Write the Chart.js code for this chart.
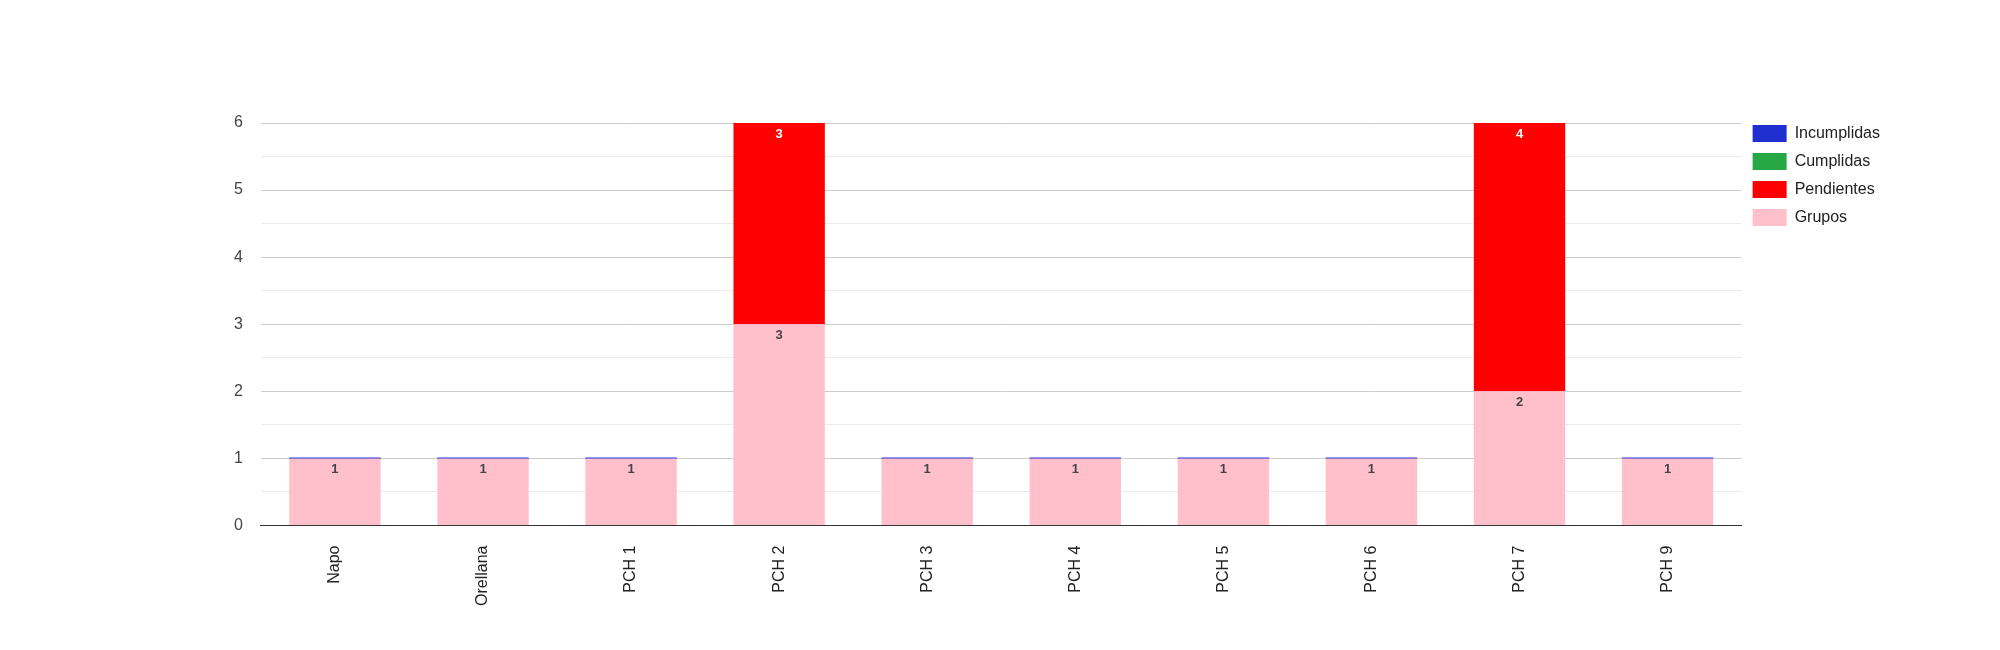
<!DOCTYPE html>
<html>
<head>
<meta charset="utf-8">
<script src="https://cdn.jsdelivr.net/npm/chart.js@4"></script>
<style>
  body { margin: 0; background: #fff; }
  #wrap { width: 2000px; height: 650px; position: relative; }
</style>
</head>
<body>
<div id="wrap"><canvas id="grafico"></canvas></div>
<script>
// categorias y series
var categorias = ['Napo', 'Orellana', 'PCH 1', 'PCH 2', 'PCH 3', 'PCH 4', 'PCH 5', 'PCH 6', 'PCH 7', 'PCH 9'];
var grupos      = [1, 1, 1, 3, 1, 1, 1, 1, 2, 1];
var pendientes  = [0, 0, 0, 3, 0, 0, 0, 0, 4, 0];
var cumplidas   = [0, 0, 0, 0, 0, 0, 0, 0, 0, 0];
var incumplidas = [0, 0, 0, 0, 0, 0, 0, 0, 0, 0];
var marcasY = [0, 1, 2, 3, 4, 5, 6];

var fuente = "'Liberation Sans', Arial, sans-serif";

// etiquetas de valor dentro de las barras
var etiquetasBarras = {
    id: 'etiquetasBarras',
    afterDatasetsDraw: function(chart) {
        var ctx = chart.ctx;
        chart.data.datasets.forEach(function(ds, i) {
            if (!ds.colorEtiqueta) return;
            var meta = chart.getDatasetMeta(i);
            meta.data.forEach(function(bar, j) {
                var v = ds.data[j];
                if (!v) return;
                ctx.save();
                ctx.font = 'bold 13px ' + fuente;
                ctx.fillStyle = ds.colorEtiqueta;
                ctx.textAlign = 'center';
                ctx.textBaseline = 'middle';
                ctx.fillText(String(v), bar.x, bar.y + 11);
                ctx.restore();
            });
        });
    }
};

var grafico = new Chart(document.getElementById('grafico').getContext('2d'), {
    type: 'bar',
    data: {
        labels: categorias,
        datasets: [
            { label: 'Grupos', data: grupos, backgroundColor: '#ffc0cb', colorEtiqueta: '#444' },
            { label: 'Pendientes', data: pendientes, backgroundColor: '#ff0000', colorEtiqueta: '#fff' },
            { label: 'Cumplidas', data: cumplidas, backgroundColor: '#28a745' },
            { label: 'Incumplidas', data: incumplidas, backgroundColor: '#1f2fd0', minBarLength: 2 }
        ]
    },
    options: {
        responsive: true,
        maintainAspectRatio: false,
        animation: false,
        categoryPercentage: 1,
        barPercentage: 0.617,
        borderWidth: 0,
        layout: { padding: { left: 216, right: 110, top: 114, bottom: 32 } },
        plugins: {
            tooltip: { enabled: false },
            // titulo vacio: solo separa el area del grafico de la leyenda
            title: {
                display: true,
                text: '',
                fullSize: false,
                font: { size: 1, lineHeight: 1 },
                padding: { top: 0, bottom: 8 }
            },
            legend: {
                position: 'right',
                align: 'start',
                reverse: true,
                labels: {
                    boxWidth: 34,
                    boxHeight: 17,
                    padding: 11,
                    color: '#222',
                    font: { family: fuente, size: 16 }
                }
            }
        },
        scales: {
            x: {
                stacked: true,
                grid: { display: false },
                border: { display: true, color: '#333' },
                ticks: {
                    minRotation: 90,
                    maxRotation: 90,
                    padding: 12,
                    color: '#222',
                    font: { family: fuente, size: 16 }
                }
            },
            y: {
                stacked: true,
                min: 0,
                max: 6,
                border: { display: false },
                grid: {
                    drawTicks: false,
                    color: function(c) {
                        if (c.tick.value === 0) return '#333';
                        return marcasY.indexOf(c.tick.value) >= 0 ? '#cccccc' : '#ebebeb';
                    }
                },
                ticks: {
                    stepSize: 0.5,
                    padding: 18,
                    color: '#444',
                    font: { family: fuente, size: 16 },
                    callback: function(v) { return marcasY.indexOf(v) >= 0 ? v : ''; }
                }
            }
        }
    },
    plugins: [etiquetasBarras]
});
</script>
</body>
</html>
